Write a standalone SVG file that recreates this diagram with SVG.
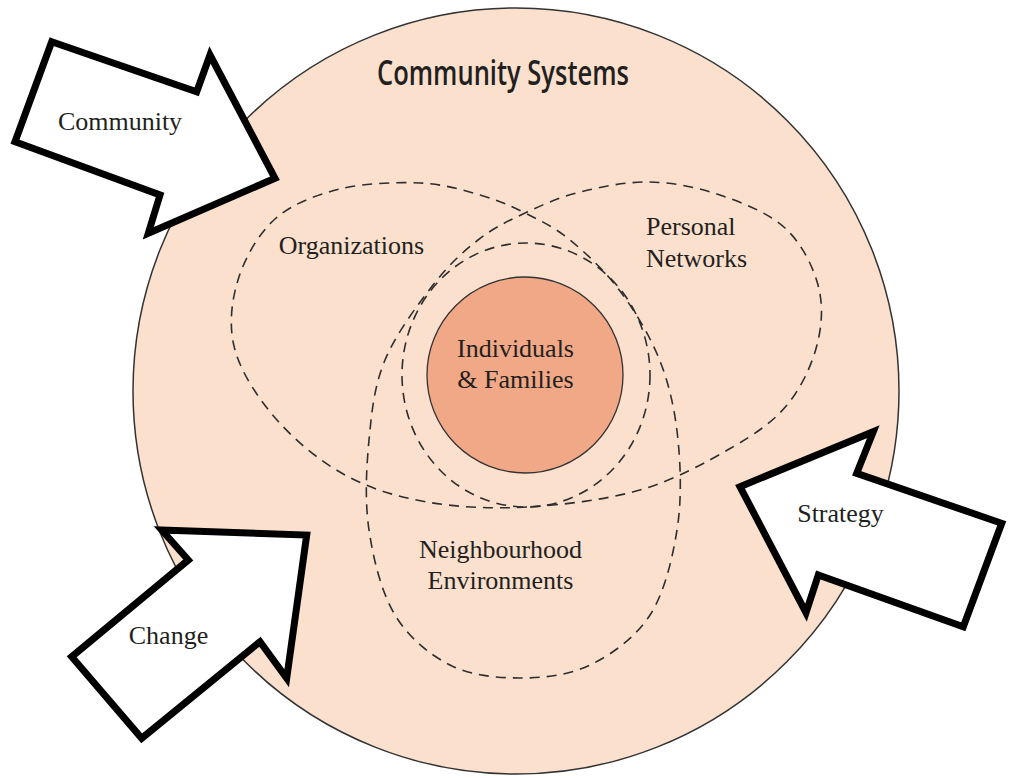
<svg xmlns="http://www.w3.org/2000/svg" width="1013" height="778" viewBox="0 0 1013 778">
  <style>
    .label { font-family: "Liberation Serif", "Times New Roman", serif; font-size: 26px; fill: #231F20; }
    .title { font-family: "Open Sans", "Liberation Sans", Arial, sans-serif; font-size: 34px; font-weight: 600; fill: #231F20; }
    .arrow { fill: #FFFFFF; stroke: #000000; stroke-width: 7; stroke-linejoin: miter; stroke-miterlimit: 10; }
    .dashed { fill: none; stroke: #2E2E2E; stroke-width: 1.6; stroke-dasharray: 10 7; }
  </style>

  <rect width="1013" height="778" fill="#FFFFFF"/>

  <!-- outer system: community -->
  <g id="community-systems">
    <circle cx="516" cy="391" r="383" fill="#FBE0CE" stroke="#333333" stroke-width="1.5"/>
    <text class="title" x="377" y="85" textLength="252" lengthAdjust="spacingAndGlyphs">Community Systems</text>
  </g>

  <!-- overlapping settings: organizations, personal networks, neighbourhood -->
  <g id="settings-outline">
    <path class="dashed" d="M527,507
      C491.5,509 457.3,507.3 427,502
      C396.7,496.7 370,488.7 345,475
      C320,461.3 295.3,440.8 277,420
      C258.7,399.2 241.5,373.3 235,350
      C228.5,326.7 231.3,301.8 238,280
      C244.7,258.2 258,234.2 275,219
      C292,203.8 315.8,195 340,189
      C364.2,183 396.7,182 420,183
      C443.3,184 462.5,190 480,195
      C497.5,200 510,205.5 525,213
      C540,220.5 554.2,227 570,240
      C585.8,253 605,270.8 620,291
      C635,311.2 650.3,336.2 660,361
      C669.7,385.8 675.2,411.8 678,440
      C680.8,468.2 681.7,500.8 677,530
      C672.3,559.2 664.5,592.5 650,615
      C635.5,637.5 611.7,654.5 590,665
      C568.3,675.5 543.3,678 520,678
      C496.7,678 470.8,675.5 450,665
      C429.2,654.5 408.5,637.5 395,615
      C381.5,592.5 373.3,559.2 369,530
      C364.7,500.8 366.3,468.3 369,440
      C371.7,411.7 374.3,385.8 385,360
      C395.7,334.2 417.5,305 433,285
      C448.5,265 462.7,252 478,240
      C493.3,228 508,221 525,213
      C542,205 559.2,197.2 580,192
      C600.8,186.8 626.7,181.5 650,182
      C673.3,182.5 697.5,187.3 720,195
      C742.5,202.7 768.7,213 785,228
      C801.3,243 812.7,265.5 818,285
      C823.3,304.5 822.2,325 817,345
      C811.8,365 801.3,387.8 787,405
      C772.7,422.2 755.5,433.8 731,448
      C706.5,462.2 674,480.2 640,490
      C606,499.8 562.5,505 527,507 Z"/>
    <ellipse class="dashed" cx="526" cy="375" rx="124" ry="132"/>
  </g>

  <g id="organizations">
    <text class="label" x="351.5" y="254" text-anchor="middle">Organizations</text>
  </g>

  <g id="personal-networks">
    <text class="label" x="646" y="235">Personal</text>
    <text class="label" x="646" y="267">Networks</text>
  </g>

  <g id="neighbourhood-environments">
    <text class="label" x="500.5" y="558" text-anchor="middle">Neighbourhood</text>
    <text class="label" x="500.5" y="589" text-anchor="middle">Environments</text>
  </g>

  <g id="individuals-families">
    <circle cx="525" cy="375" r="98" fill="#F1A886" stroke="#333333" stroke-width="1.3"/>
    <text class="label" x="515.5" y="357" text-anchor="middle">Individuals</text>
    <text class="label" x="515.5" y="388" text-anchor="middle">&amp; Families</text>
  </g>

  <!-- block arrows pointing into the system -->
  <g id="arrow-community">
    <polygon class="arrow" points="51.7,41.7 196.7,91.7 210,55 275,178.3 148.3,233.3 160,195 15,141.7"/>
    <text class="label" x="120" y="130" text-anchor="middle">Community</text>
  </g>

  <g id="arrow-strategy">
    <polygon class="arrow" points="740,486.7 873.3,431.7 856.7,473.3 1001.7,523.3 963.3,626.7 818.3,575 806,612.7"/>
    <text class="label" x="840.5" y="522" text-anchor="middle">Strategy</text>
  </g>

  <g id="arrow-change">
    <polygon class="arrow" points="71.7,656.7 188.3,560 161.7,530 306.7,535 286.7,678.3 260,641.7 141.7,738.3"/>
    <text class="label" x="168.5" y="644" text-anchor="middle">Change</text>
  </g>
</svg>
